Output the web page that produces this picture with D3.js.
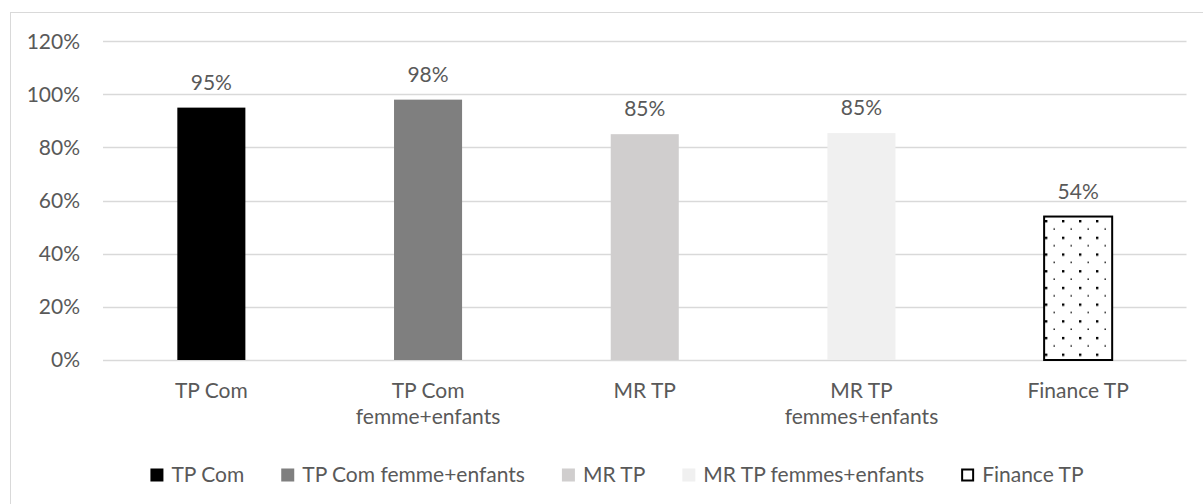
<!DOCTYPE html>
<html>
<head>
<meta charset="utf-8">
<script src="https://cdn.jsdelivr.net/npm/d3@7"></script>
<style>
  html, body { margin: 0; padding: 0; background: #fff; }
  svg { display: block; }
  text { font-family: Lato, "Open Sans", sans-serif; fill: #595959; }
</style>
</head>
<body>
<svg id="chart" width="1203" height="504"></svg>
<script>
// Series shown as one bar per category
const categories = ["TP Com", "TP Com femme+enfants", "MR TP", "MR TP femmes+enfants", "Finance TP"];
const axisLines = [["TP Com"], ["TP Com", "femme+enfants"], ["MR TP"], ["MR TP", "femmes+enfants"], ["Finance TP"]];
const values = [0.95, 0.98, 0.85, 0.854, 0.54];
const valueLabels = ["95%", "98%", "85%", "85%", "54%"];
const yTicks = [0, 0.2, 0.4, 0.6, 0.8, 1.0, 1.2];
const fills = ["#000000", "#7f7f7f", "#d0cece", "#f0f0f0", "url(#dots)"];

const FONT = 21;
const svg = d3.select("#chart");

// Dotted fill for the last bar
const defs = svg.append("defs");
const pat = defs.append("pattern")
  .attr("id", "dots")
  .attr("patternUnits", "userSpaceOnUse")
  .attr("width", 17).attr("height", 16.7)
  .attr("x", 1045).attr("y", 220);
pat.append("rect").attr("width", 17).attr("height", 16.7).attr("fill", "#fff");
pat.append("rect").attr("x", 0).attr("y", 0).attr("width", 2.4).attr("height", 2.4).attr("fill", "#000");
pat.append("rect").attr("x", 8.5).attr("y", 8.35).attr("width", 1.4).attr("height", 1.4).attr("fill", "#000");

// Outer frame
svg.append("rect")
  .attr("x", 10.5).attr("y", 12.5)
  .attr("width", 1200).attr("height", 500)
  .attr("fill", "none").attr("stroke", "#d9d9d9").attr("stroke-width", 1);

const x = d3.scaleBand()
  .domain(categories)
  .range([103, 1186.5])
  .paddingInner(0.686)
  .paddingOuter(0.343);

const y = d3.scaleLinear().domain([0, 1.2]).range([360, 41.2]);

// Gridlines
svg.append("g").selectAll("line")
  .data(yTicks).join("line")
  .attr("x1", 103).attr("x2", 1186.5)
  .attr("y1", d => Math.round(y(d)) + 0.5)
  .attr("y2", d => Math.round(y(d)) + 0.5)
  .attr("stroke", "#d9d9d9").attr("stroke-width", 1.4);

// Y tick labels
svg.append("g").selectAll("text")
  .data(yTicks).join("text")
  .attr("x", 80)
  .attr("y", d => y(d))
  .attr("dy", "0.35em")
  .attr("text-anchor", "end")
  .attr("font-size", FONT)
  .text(d3.format(".0%"));

// Bars
svg.append("g").selectAll("rect")
  .data(categories).join("rect")
  .attr("x", d => x(d))
  .attr("y", (d, i) => y(values[i]))
  .attr("width", x.bandwidth())
  .attr("height", (d, i) => y(0) - y(values[i]))
  .attr("fill", (d, i) => fills[i])
  .attr("stroke", (d, i) => i === 4 ? "#000" : "none")
  .attr("stroke-width", 2);

// Value labels above bars
svg.append("g").selectAll("text")
  .data(categories).join("text")
  .attr("x", d => x(d) + x.bandwidth() / 2)
  .attr("y", (d, i) => y(values[i]) - 18)
  .attr("text-anchor", "middle")
  .attr("font-size", FONT)
  .text((d, i) => valueLabels[i]);

// Category labels
const cat = svg.append("g").selectAll("text")
  .data(categories).join("text")
  .attr("x", d => x(d) + x.bandwidth() / 2)
  .attr("y", 398)
  .attr("text-anchor", "middle")
  .attr("font-size", FONT);
cat.each(function (d, i) {
  const t = d3.select(this);
  axisLines[i].forEach((line, j) => {
    t.append("tspan")
      .attr("x", x(d) + x.bandwidth() / 2)
      .attr("dy", j === 0 ? 0 : 26)
      .text(line);
  });
});

// Legend
const legend = svg.append("g");
const items = legend.selectAll("g").data(categories).join("g");
items.append("text")
  .attr("font-size", FONT)
  .attr("y", 475)
  .attr("dy", "0.35em")
  .text(d => d);
const widths = [];
items.select("text").each(function () { widths.push(this.getComputedTextLength()); });
const sw = 13, gapSw = 8, gapItem = 37;
const total = d3.sum(widths) + categories.length * (sw + gapSw) + gapItem * (categories.length - 1);
let cx = 617 - total / 2;
items.each(function (d, i) {
  const g = d3.select(this);
  if (i === 4) {
    g.append("rect").attr("x", cx + 1).attr("y", 469.5).attr("width", 11).attr("height", 11)
      .attr("fill", "#fff").attr("stroke", "#000").attr("stroke-width", 2);
  } else {
    g.append("rect").attr("x", cx).attr("y", 468.5).attr("width", sw).attr("height", sw)
      .attr("fill", fills[i]);
  }
  g.select("text").attr("x", cx + sw + gapSw);
  cx += sw + gapSw + widths[i] + gapItem;
});
</script>
</body>
</html>
